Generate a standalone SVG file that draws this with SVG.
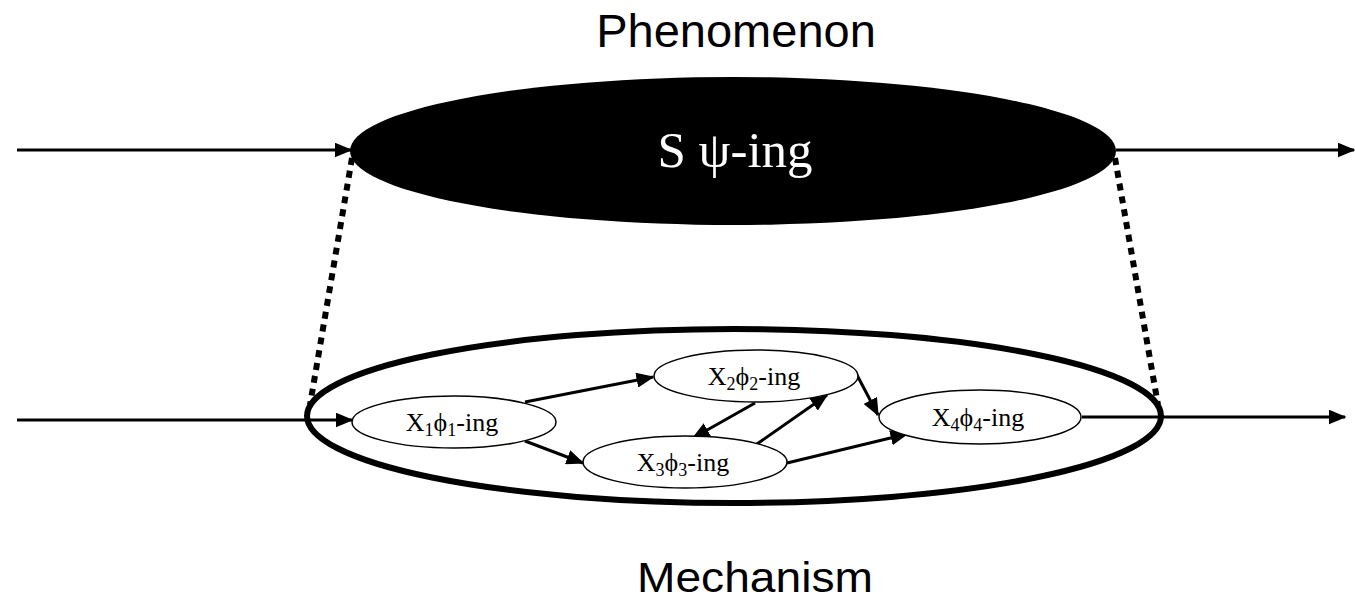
<svg xmlns="http://www.w3.org/2000/svg" width="1355" height="602" viewBox="0 0 1355 602">
<style>
.lbl{font-family:"Liberation Sans",Arial,sans-serif;fill:#000;text-anchor:middle}
.nd{fill:#fff;stroke:#000;stroke-width:1.5}
.nt{font-family:"Liberation Serif","DejaVu Serif",serif;font-size:26px;fill:#000;text-anchor:middle}
.sub{font-size:18px}
.ar{stroke:#000;stroke-width:3;fill:none;marker-end:url(#ah)}
.dot{stroke:#000;stroke-width:6;stroke-dasharray:7 6;fill:none}
</style>
<defs>
<marker id="ah" markerWidth="6" markerHeight="5" refX="5.5" refY="2.5" orient="auto" markerUnits="strokeWidth">
<path d="M0,0 L6,2.5 L0,5 Z" fill="#000"/>
</marker>
</defs>
<rect width="1355" height="602" fill="#fff"/>
<text class="lbl" x="736" y="47" font-size="47">Phenomenon</text>
<text class="lbl" x="755" y="592" font-size="42" textLength="236" lengthAdjust="spacingAndGlyphs">Mechanism</text>
<g id="connectors">
<line class="ar" x1="17" y1="150" x2="351" y2="150"/>
<line class="ar" x1="1116" y1="150" x2="1354" y2="150"/>
<line class="dot" x1="352" y1="158" x2="310" y2="405"/>
<line class="dot" x1="1115" y1="158" x2="1158" y2="405"/>
<line class="ar" x1="17" y1="420" x2="352" y2="420"/>
<line class="ar" x1="1082" y1="417" x2="1345" y2="417"/>
</g>
<g id="phenomenon">
<ellipse cx="733" cy="151" rx="383" ry="74" fill="#000"/>
<text x="735" y="167" font-family="Liberation Serif,DejaVu Serif,serif" font-size="51" fill="#fff" text-anchor="middle">S ψ-ing</text>
</g>
<g id="mechanism">
<ellipse cx="734" cy="416" rx="427" ry="87" fill="none" stroke="#000" stroke-width="6"/>
</g>
<g id="inner-connectors">
<line class="ar" x1="525" y1="402" x2="653" y2="377"/>
<line class="ar" x1="525" y1="441" x2="583" y2="463"/>
<line class="ar" x1="755" y1="403" x2="693" y2="438"/>
<line class="ar" x1="757" y1="444" x2="827" y2="395"/>
<line class="ar" x1="857" y1="375" x2="878" y2="415"/>
<line class="ar" x1="787" y1="463" x2="907" y2="434"/>
</g>
<g id="x1">
<ellipse class="nd" cx="454" cy="422" rx="102" ry="26"/>
<text class="nt" x="452" y="431">X<tspan class="sub" dy="5">1</tspan><tspan dy="-5">ϕ</tspan><tspan class="sub" dy="5">1</tspan><tspan dy="-5">-ing</tspan></text>
</g>
<g id="x2">
<ellipse class="nd" cx="756" cy="376" rx="102" ry="26"/>
<text class="nt" x="754" y="385">X<tspan class="sub" dy="5">2</tspan><tspan dy="-5">ϕ</tspan><tspan class="sub" dy="5">2</tspan><tspan dy="-5">-ing</tspan></text>
</g>
<g id="x3">
<ellipse class="nd" cx="685" cy="462" rx="102" ry="26"/>
<text class="nt" x="683" y="471">X<tspan class="sub" dy="5">3</tspan><tspan dy="-5">ϕ</tspan><tspan class="sub" dy="5">3</tspan><tspan dy="-5">-ing</tspan></text>
</g>
<g id="x4">
<ellipse class="nd" cx="980" cy="417" rx="101" ry="27"/>
<text class="nt" x="978" y="426">X<tspan class="sub" dy="5">4</tspan><tspan dy="-5">ϕ</tspan><tspan class="sub" dy="5">4</tspan><tspan dy="-5">-ing</tspan></text>
</g>
</svg>
